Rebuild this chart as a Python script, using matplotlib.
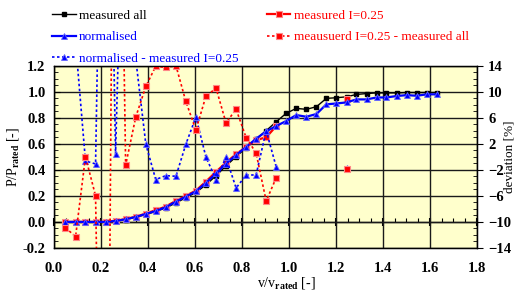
import numpy as np
import matplotlib
matplotlib.use('Agg')
import matplotlib.pyplot as plt
from matplotlib.ticker import MultipleLocator, FormatStrFormatter

plt.rcParams['font.family'] = ['Liberation Serif', 'DejaVu Serif']
plt.rcParams['font.weight'] = 'bold'
plt.rcParams['mathtext.fontset'] = 'custom'
plt.rcParams['mathtext.rm'] = 'Liberation Serif:bold'
plt.rcParams['mathtext.bf'] = 'Liberation Serif:bold'
plt.rcParams['mathtext.it'] = 'Liberation Serif:bold'

nan = np.nan

# normalised wind speed v/v_rated
v_norm = [0.049, 0.092, 0.134, 0.177, 0.220, 0.262, 0.305, 0.348, 0.391, 0.433,
          0.476, 0.519, 0.561, 0.604, 0.647, 0.690, 0.732, 0.775, 0.818, 0.860,
          0.903, 0.946, 0.988, 1.031, 1.074, 1.117, 1.159, 1.202, 1.245, 1.287,
          1.330, 1.373, 1.415, 1.458, 1.501, 1.544, 1.586, 1.629]

measured_all = [0.0, 0.0, 0.0, 0.0, 0.0, 0.006, 0.018, 0.035, 0.057, 0.080,
                0.107, 0.146, 0.185, 0.226, 0.285, 0.355, 0.430, 0.500, 0.570, 0.635,
                0.700, 0.769, 0.833, 0.871, 0.864, 0.884, 0.948, 0.953, 0.960, 0.978,
                0.985, 0.990, 0.990, 0.990, 0.993, 0.993, 0.993, 0.993]

normalised = [0.0, 0.0, 0.0, 0.0, 0.0, 0.007, 0.020, 0.038, 0.061, 0.084,
              0.113, 0.156, 0.194, 0.235, 0.300, 0.372, 0.447, 0.513, 0.575, 0.638,
              0.695, 0.736, 0.774, 0.820, 0.807, 0.828, 0.902, 0.909, 0.917, 0.940,
              0.940, 0.955, 0.955, 0.966, 0.973, 0.968, 0.979, 0.979]

measured_i025 = [0.0, 0.0, 0.0, 0.0, 0.0, 0.008, 0.022, 0.040, 0.064, 0.090,
                 0.118, 0.162, 0.200, 0.240, 0.310, 0.385, 0.455, 0.520, 0.575, 0.628,
                 0.649, 0.736, nan, nan, nan, nan, nan, nan, 0.940, nan,
                 nan, nan, nan, nan, nan, nan, nan, nan]

# deviations [%] (right axis)
dev_norm_minus_i025 = [40.0, 17.5, -0.65, -1.1, 88.0, 0.4, 58.0, 15.0, 1.9, -3.5,
                       -2.9, -3.0, 1.9, 6.1, -0.1, -3.5, -0.1, -4.8, -2.8, -2.8,
                       4.0, -1.6, nan, nan, nan, nan, nan, nan, -1.8, nan,
                       nan, nan, nan, nan, nan, nan, nan, nan]

dev_i025_minus_all = [-10.9, -12.25, 0.0, -6.0, -100.0, 100.0, -1.3, 6.1, 10.8, 13.9,
                      13.7, 14.0, 8.5, 4.1, 9.35, 10.5, 5.2, 7.3, 2.9, 0.6,
                      -6.8, -3.2, nan, nan, nan, nan, nan, nan, -1.9, nan,
                      nan, nan, nan, nan, nan, nan, nan, nan]

x_ticks = [0.0, 0.2, 0.4, 0.6, 0.8, 1.0, 1.2, 1.4, 1.6, 1.8]
y_ticks = [-0.2, 0.0, 0.2, 0.4, 0.6, 0.8, 1.0, 1.2]
dev_ticks = [-14, -10, -6, -2, 2, 6, 10, 14]

BLUE = '#0000FF'
RED = '#FF0000'

fig = plt.figure(figsize=(5.19, 2.90), dpi=100)
ax = fig.add_axes([0.104, 0.145, 0.815, 0.629])
ax.set_facecolor('#FFFFCC')
ax.set_xlim(0, 1.8)
ax.set_ylim(-0.2, 1.2)
ax.set_xticks(x_ticks)
ax.set_yticks(y_ticks)
ax.xaxis.set_major_formatter(FormatStrFormatter('%.1f'))
ax.yaxis.set_major_formatter(FormatStrFormatter('%.1f'))
ax.yaxis.set_minor_locator(MultipleLocator(0.05))
ax.grid(True, which='major', color='#1a1a1a', lw=1.0)
ax.set_axisbelow(True)
ax.tick_params(axis='x', which='both', length=0, pad=10, labelsize=10.5)
ax.tick_params(axis='y', which='major', direction='in', length=4, pad=6, labelsize=10.5)
ax.tick_params(axis='y', which='minor', direction='in', length=3)
for s in ax.spines.values():
    s.set_linewidth(1.0)

# axis crossing at y=0 with small ticks
sec = ax.secondary_xaxis(0.2 / 1.4)
sec.set_xticks(x_ticks)
sec.xaxis.set_minor_locator(MultipleLocator(0.05))
sec.tick_params(which='major', direction='inout', length=6, width=1.5, labelbottom=False)
sec.tick_params(which='minor', direction='in', length=3, width=0.8)
sec.spines['bottom'].set_linewidth(1.0)

ax.plot(v_norm, measured_all, color='black', lw=1.0, marker='s', ms=2.5,
        label='measured all', zorder=3)
ax.plot(v_norm, measured_i025, color=RED, lw=1.6, marker='s', ms=4,
        mfc=RED, mec='#FF8888', mew=0.8, label='measured I=0.25', zorder=4)
ax.plot(v_norm, normalised, color=BLUE, lw=1.6, marker='^', ms=4.5,
        mfc=BLUE, mec='#6666FF', mew=0.6, label='normalised', zorder=5)

ax2 = ax.twinx()
ax2.set_ylim(-14, 14)
ax2.set_yticks(dev_ticks)
ax2.yaxis.set_minor_locator(MultipleLocator(1))
ax2.tick_params(axis='y', which='major', direction='out', length=4, pad=4, labelsize=10.5)
ax2.tick_params(axis='y', which='minor', direction='in', length=3)

ax2.plot(v_norm, dev_norm_minus_i025, color=BLUE, lw=1.2, ls=(0, (1.5, 1.5)),
         marker='^', ms=4.5, mfc=BLUE, mec='#6666FF', mew=0.6,
         label='normalised - measured I=0.25')
ax2.plot(v_norm, dev_i025_minus_all, color=RED, lw=1.2, ls=(0, (1.5, 1.5)),
         marker='s', ms=4, mfc=RED, mec='#FF8888', mew=0.8,
         label='meausuerd I=0.25 - measured all')

ax.set_xlabel(r'v/v$_{\rm rated}$ [-]', fontsize=10)
ax.xaxis.set_label_coords(0.55, -0.19)
ax.xaxis.label.set_va('center')
ax.set_ylabel(r'P/P$_{\rm rated}$ [-]', fontsize=10)
ax.yaxis.set_label_coords(-0.098, 0.5)
ax.yaxis.label.set_va('center')
ax2.set_ylabel('deviation [%]', fontsize=9.5)
ax2.yaxis.set_label_coords(1.078, 0.5)
ax2.yaxis.label.set_va('center')

h1, l1 = ax.get_legend_handles_labels()
h2, l2 = ax2.get_legend_handles_labels()
hd = dict(zip(l1 + l2, h1 + h2))
prop = {'weight': 'normal', 'size': 9.5}
common = dict(loc='upper left', frameon=False, prop=prop, labelcolor='linecolor',
              handlelength=1.75, handletextpad=0.25, labelspacing=0.7,
              borderpad=0, borderaxespad=0)
leg1 = fig.legend([hd['measured all'], hd['normalised'], hd['normalised - measured I=0.25']],
                  ['measured all', 'normalised', 'normalised - measured I=0.25'],
                  bbox_to_anchor=(0.101, 0.967), **common)
leg2 = fig.legend([hd['measured I=0.25'], hd['meausuerd I=0.25 - measured all']],
                  ['measured I=0.25', 'meausuerd I=0.25 - measured all'],
                  bbox_to_anchor=(0.515, 0.967), **common)

fig.savefig('out.png', dpi=100)
